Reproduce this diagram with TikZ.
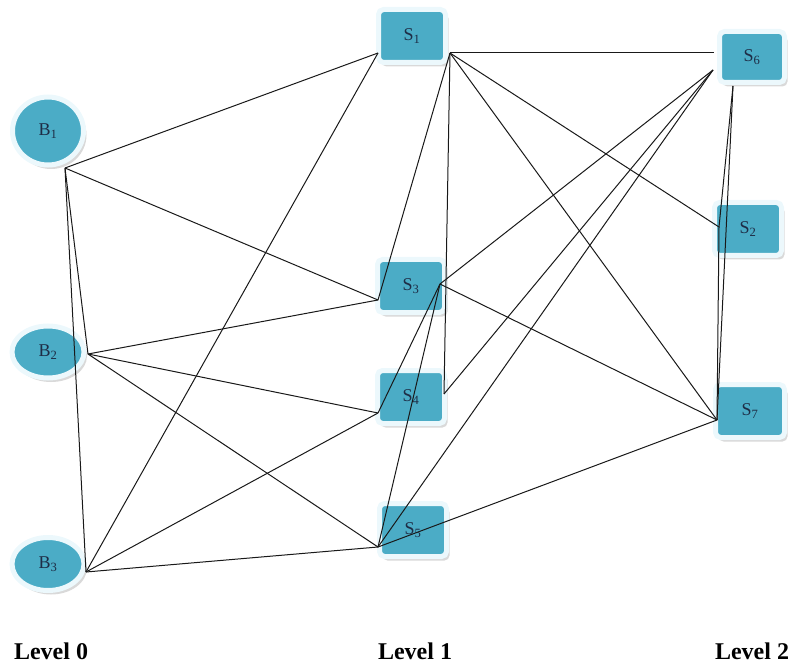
\documentclass[tikz,border=0pt]{standalone}
\usepackage{fontspec}
\setmainfont{Liberation Serif}
\usetikzlibrary{shadows,shapes.geometric}
\definecolor{nodeblue}{RGB}{75,172,198}
\definecolor{ringc}{RGB}{236,248,252}
\definecolor{txt}{RGB}{30,45,70}
\begin{document}
\begin{tikzpicture}[x=1pt,y=-1pt,
  sbox/.style={rectangle, rounded corners=5pt, fill=nodeblue, draw=ringc, line width=5pt,
    minimum width=67pt, minimum height=53pt, inner sep=0pt,
    font=\fontsize{18}{18}\selectfont, text=txt,
    drop shadow={shadow xshift=3pt, shadow yshift=-4pt, opacity=0.3}},
  bnode/.style={ellipse, fill=nodeblue, draw=ringc, line width=5pt, inner sep=0pt,
    font=\fontsize{18}{18}\selectfont, text=txt,
    drop shadow={shadow xshift=3pt, shadow yshift=-4pt, opacity=0.3}},
  edge/.style={draw=black!90, line width=1pt},
  lvl/.style={font=\fontsize{24}{24}\selectfont\bfseries, text=black}]
\useasboundingbox (0,0) rectangle (798,671);

% level 0
\node[bnode, minimum width=71pt, minimum height=68pt] (B1) at (48,131) {B\textsubscript{1}};
\node[bnode, minimum width=72pt, minimum height=52pt] (B2) at (48,352) {B\textsubscript{2}};
\node[bnode, minimum width=72pt, minimum height=53pt] (B3) at (48,564) {B\textsubscript{3}};
% level 1
\node[sbox] (S1) at (412,36) {S\textsubscript{1}};
\node[sbox] (S3) at (411,286) {S\textsubscript{3}};
\node[sbox] (S4) at (411,397) {S\textsubscript{4}};
\node[sbox] (S5) at (413,530) {S\textsubscript{5}};
% level 2
\node[sbox, minimum width=65pt, minimum height=51pt] (S6) at (752,57) {S\textsubscript{6}};
\node[sbox] (S2) at (748,229) {S\textsubscript{2}};
\node[sbox, minimum width=69pt] (S7) at (750,411) {S\textsubscript{7}};

% connection points
\coordinate (B1p) at (65,168);
\coordinate (B2p) at (88,354);
\coordinate (B3p) at (86,572);
\coordinate (S1l) at (378,53);
\coordinate (S1r) at (450,53);
\coordinate (S3l) at (378,300);
\coordinate (S3r) at (440,284);
\coordinate (S4l) at (378,413);
\coordinate (S4r) at (444,394);
\coordinate (S5l) at (378,547);
\coordinate (S6t) at (714,53);
\coordinate (S6l) at (713,70);
\coordinate (S6b) at (733,86);
\coordinate (S2l) at (719,227);
\coordinate (S7l) at (717,420);

% connectors
\draw[edge] (B1p) -- (S1l);
\draw[edge] (B1p) -- (S3l);
\draw[edge] (B1p) -- (B2p);
\draw[edge] (B1p) -- (B3p);
\draw[edge] (B2p) -- (S3l);
\draw[edge] (B2p) -- (S4l);
\draw[edge] (B2p) -- (S5l);
\draw[edge] (B3p) -- (S1l);
\draw[edge] (B3p) -- (S4l);
\draw[edge] (B3p) -- (S5l);
\draw[edge] (S1r) -- (S3l);
\draw[edge] (S1r) -- (S4r);
\draw[edge] (S1r) -- (S6t);
\draw[edge] (S1r) -- (S2l);
\draw[edge] (S1r) -- (S7l);
\draw[edge] (S3r) -- (S4l);
\draw[edge] (S3r) -- (S5l);
\draw[edge] (S3r) -- (S6l);
\draw[edge] (S3r) -- (S7l);
\draw[edge] (S4r) -- (S6l);
\draw[edge] (S5l) -- (S6l);
\draw[edge] (S5l) -- (S7l);
\draw[edge] (S6b) -- (S2l);
\draw[edge] (S6b) -- (S7l);
\draw[edge] (S2l) -- (S7l);

% level labels
\node[lvl] (L0) at (51,651) {Level 0};
\node[lvl] (L1) at (415,651) {Level 1};
\node[lvl] (L2) at (752,651) {Level 2};
\end{tikzpicture}
\end{document}
